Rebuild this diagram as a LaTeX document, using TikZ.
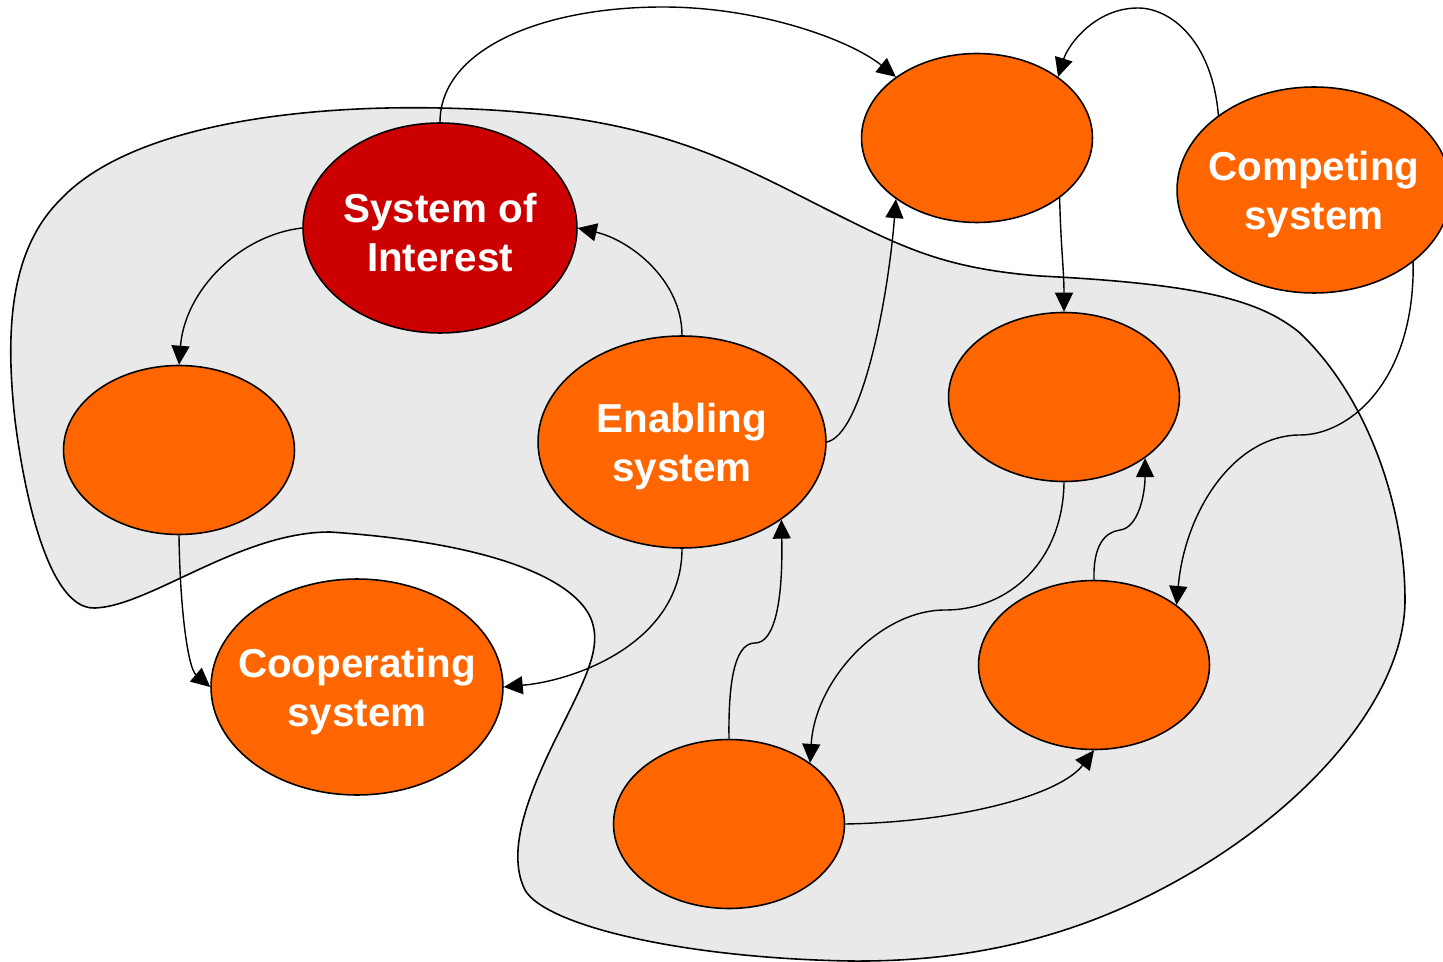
\documentclass[tikz,border=0pt]{standalone}
\usepackage{fontspec}
\setmainfont{Liberation Sans}
\usetikzlibrary{shapes.geometric,arrows.meta}
\definecolor{sysorange}{HTML}{FF6600}
\definecolor{soired}{HTML}{CC0000}
\definecolor{blobgray}{HTML}{E9E9E9}
\tikzset{
  sysnode/.style={ellipse, draw=black, line width=0.9pt, fill=sysorange, inner sep=0pt},
  smallsys/.style={sysnode, minimum width=4.62cm, minimum height=3.38cm},
  lbl/.style={text=white, font=\bfseries\fontsize{23}{28}\selectfont, align=center, yshift=-2.5pt},
  conn/.style={draw=black, line width=0.8pt, -{Triangle[length=0.38cm,width=0.36cm]}},
  blob/.style={draw=black, line width=0.9pt, fill=blobgray}
}
\begin{document}
\begin{tikzpicture}[x=0.02cm,y=-0.02cm]
\useasboundingbox (0,0) rectangle (1443,962);
% environment boundary
\path[blob] (440,108)
  .. controls (640,112) and (720,155) .. (820,206)
  .. controls (900,246) and (940,268) .. (1040,276)
  .. controls (1200,284) and (1260,300) .. (1300,333)
  .. controls (1370,400) and (1405,510) .. (1405,600)
  .. controls (1405,700) and (1300,820) .. (1150,895)
  .. controls (1050,945) and (950,962) .. (850,961)
  .. controls (680,958) and (545,925) .. (525,890)
  .. controls (505,850) and (530,790) .. (560,730)
  .. controls (585,680) and (600,650) .. (593,625)
  .. controls (585,590) and (520,545) .. (330,532)
  .. controls (240,532) and (150,606) .. (95,608)
  .. controls (50,610) and (25,500) .. (15,420)
  .. controls (5,330) and (10,250) .. (60,200)
  .. controls (130,125) and (300,105) .. (440,108) -- cycle;
% systems
\node[sysnode, fill=soired, minimum width=5.48cm, minimum height=4.2cm,
      label={[lbl]center:{System of\\Interest}}] (soi) at (440,228) {};
\node[smallsys] (left) at (179,450) {};
\node[sysnode, minimum width=5.76cm, minimum height=4.24cm,
      label={[lbl]center:{Enabling\\system}}] (en) at (682,442) {};
\node[sysnode, minimum width=5.84cm, minimum height=4.32cm,
      label={[lbl]center:{Cooperating\\system}}] (coop) at (357,687) {};
\node[smallsys] (tm) at (977,138) {};
\node[sysnode, minimum width=5.48cm, minimum height=4.12cm,
      label={[lbl]center:{Competing\\system}}] (comp) at (1314,190) {};
\node[smallsys] (rm) at (1064,397) {};
\node[smallsys] (rl) at (1094,665) {};
\node[smallsys] (bot) at (729,824) {};
% connectors
\draw[conn] (soi.north) .. controls (440,50) and (540,7) .. (663,7)
            .. controls (760,7) and (850,40) .. (tm.143);
\draw[conn] (comp.142) .. controls (1212,40) and (1170,8) .. (1138,8)
            .. controls (1095,8) and (1068,45) .. (tm.37);
\draw[conn] (soi.west) .. controls (240,235) and (185,290) .. (left.north);
\draw[conn] (en.north) .. controls (682,280) and (630,240) .. (soi.east);
\draw[conn] (en.east) .. controls (862,435) and (888,300) .. (tm.217);
\draw[conn] (tm.-36) .. controls (1061,250) and (1064,270) .. (rm.north);
\draw[conn] (comp.-36) .. controls (1415,380) and (1350,435) .. (1300,435)
            .. controls (1235,435) and (1185,510) .. (rl.36);
\draw[conn] (left.south) .. controls (180,610) and (188,668) .. (coop.west);
\draw[conn] (en.south) .. controls (682,640) and (580,680) .. (coop.east);
\draw[conn] (bot.north) .. controls (728,670) and (738,643) .. (755,643)
            .. controls (775,643) and (783,600) .. (en.-38);
\draw[conn] (rm.south) .. controls (1063,560) and (1010,610) .. (945,610)
            .. controls (880,610) and (815,680) .. (bot.37);
\draw[conn] (rl.north) .. controls (1093,545) and (1105,532) .. (1120,530)
            .. controls (1138,528) and (1145,495) .. (rm.-37);
\draw[conn] (bot.east) .. controls (960,822) and (1060,795) .. (rl.south);
\end{tikzpicture}
\end{document}
